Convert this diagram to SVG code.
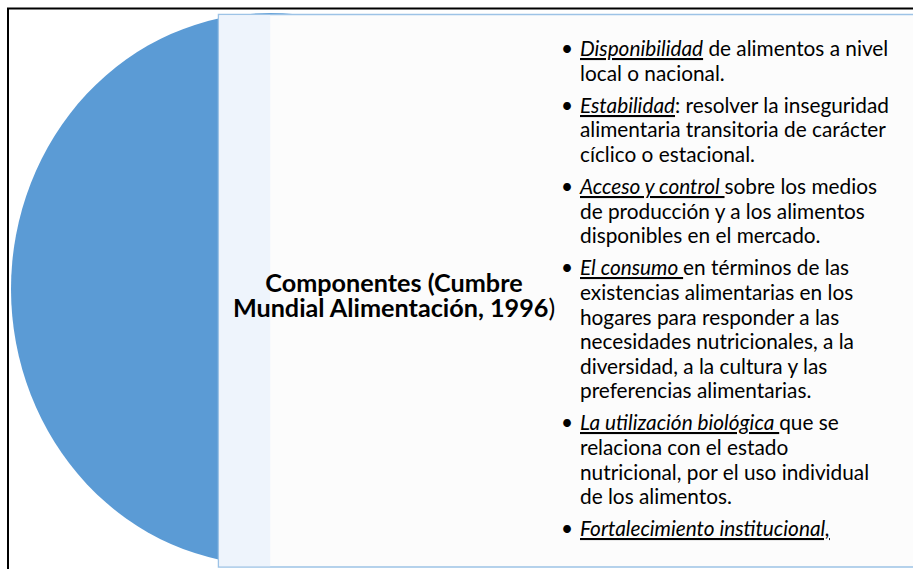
<svg xmlns="http://www.w3.org/2000/svg" width="913" height="569" viewBox="0 0 913 569">
<style>
.frame{fill:none;stroke:#000;stroke-width:2}
.circle{fill:#5B9BD5}
.panel{fill:#FCFCFC;stroke:#9DC3E6;stroke-width:1.5}
.band{fill:#EEF4FC}
.body{font-family:Lato,"Liberation Sans",sans-serif;font-size:20.8px;fill:#000;white-space:pre}
.head{font-family:Lato,"Liberation Sans",sans-serif;font-size:25.2px;font-weight:bold;fill:#000;text-anchor:middle;white-space:pre}
.u{font-style:italic;text-decoration:underline}
.n{font-weight:normal}
</style>
<rect width="913" height="569" fill="#fff"/>
<g id="circle-node">
<ellipse class="circle" cx="270" cy="289" rx="259" ry="276"/>
</g>
<g id="list-node">
<rect class="panel" x="218.5" y="14.5" width="700" height="552.5"/>
<rect class="band" x="219.25" y="15.25" width="51" height="551"/>
<text class="head" x="394" y="292">Componentes (Cumbre<tspan x="394" dy="25">Mundial Alimentación, 1996</tspan><tspan class="n">)</tspan></text>
<g class="body">
<text x="561" y="56">•</text>
<text x="580" y="56"><tspan class="u">Disponibilidad</tspan> de alimentos a nivel</text>
<text x="580" y="81">local o nacional.</text>
<text x="561" y="113">•</text>
<text x="580" y="113"><tspan class="u">Estabilidad</tspan>: resolver la inseguridad</text>
<text x="580" y="137">alimentaria transitoria de carácter</text>
<text x="580" y="162">cíclico o estacional.</text>
<text x="561" y="194">•</text>
<text x="580" y="194"><tspan class="u">Acceso y control </tspan>sobre los medios</text>
<text x="580" y="219">de producción  y a los alimentos</text>
<text x="580" y="243">disponibles en el mercado.</text>
<text x="561" y="275">•</text>
<text x="580" y="275"><tspan class="u">El consumo </tspan>en términos de las</text>
<text x="580" y="300">existencias alimentarias en los</text>
<text x="580" y="325">hogares para responder a las</text>
<text x="580" y="349">necesidades nutricionales, a la</text>
<text x="580" y="374">diversidad, a la cultura y las</text>
<text x="580" y="398">preferencias alimentarias.</text>
<text x="561" y="430">•</text>
<text x="580" y="430"><tspan class="u">La utilización biológica </tspan>que se</text>
<text x="580" y="455">relaciona con el estado</text>
<text x="580" y="480">nutricional, por el uso individual</text>
<text x="580" y="504">de los alimentos.</text>
<text x="561" y="536">•</text>
<text x="580" y="536"><tspan class="u">Fortalecimiento institucional,</tspan></text>
</g>
</g>
<g id="connectors"></g>
<path class="frame" d="M8,569 V8.5 H913"/>
</svg>
